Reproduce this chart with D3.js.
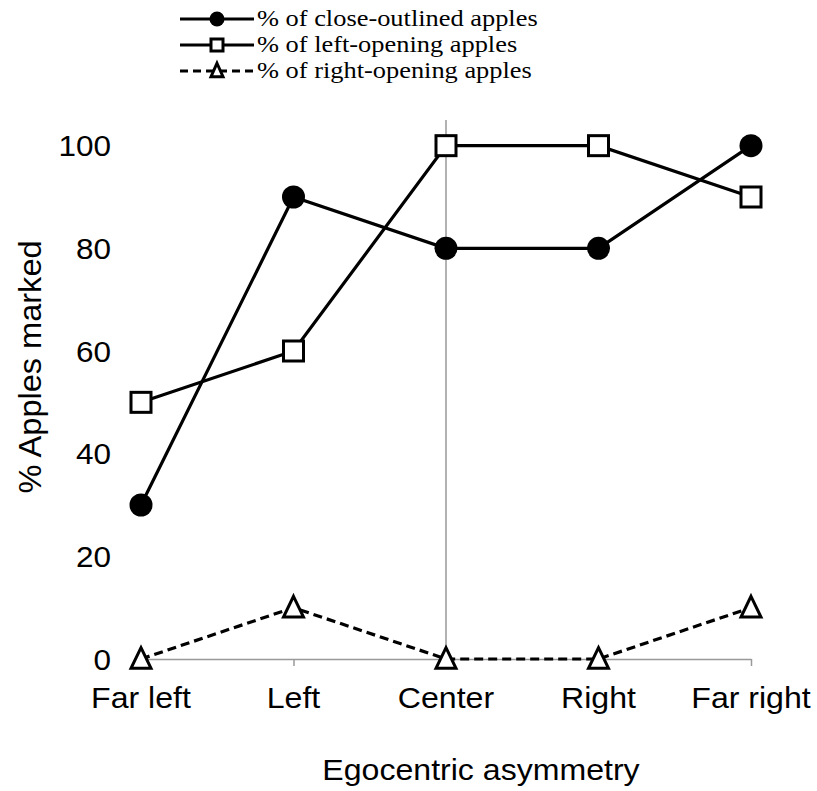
<!DOCTYPE html>
<html><head><meta charset="utf-8">
<script src="https://cdn.jsdelivr.net/npm/d3@7/dist/d3.min.js"></script>
<style>body{margin:0;background:#fff}svg{display:block}</style>
</head><body>
<svg id="c" width="817" height="791"></svg>
<script>
const categories = ["Far left", "Left", "Center", "Right", "Far right"];
const closeOutlined = [30, 90, 80, 80, 100];
const leftOpening = [50, 60, 100, 100, 90];
const rightOpening = [0, 10, 0, 0, 10];
const yTicks = [0, 20, 40, 60, 80, 100];
const seriesNames = ["% of close-outlined apples", "% of left-opening apples", "% of right-opening apples"];

const SANS = "Liberation Sans, Arial, sans-serif";
const svg = d3.select("#c");
const x = d3.scalePoint().domain(categories).range([141, 751]);
const y = d3.scaleLinear().domain([0, 105]).range([659, 120]);

// x axis
const xAxis = svg.append("g").attr("transform", "translate(0,659)")
  .call(d3.axisBottom(x).tickSize(7).tickSizeOuter(0).tickFormat(""));
xAxis.select(".domain").attr("stroke", "#999").attr("stroke-width", 1.5);
xAxis.selectAll(".tick line").attr("stroke", "#999").attr("stroke-width", 1.5);

svg.append("g").selectAll("text").data(categories).join("text")
  .attr("transform", d => `translate(${x(d)},708) scale(1.07,1)`)
  .attr("text-anchor", "middle").attr("font-family", SANS).attr("font-size", 30).text(d => d);

// vertical axis line at Center
svg.append("line").attr("x1", x("Center")).attr("x2", x("Center"))
  .attr("y1", y(105)).attr("y2", y(0)).attr("stroke", "#999").attr("stroke-width", 1.5);

// y tick labels
svg.append("g").selectAll("text").data(yTicks).join("text")
  .attr("transform", d => `translate(111,${y(d)}) scale(1.05,1)`).attr("dy", "0.36em")
  .attr("text-anchor", "end").attr("font-family", SANS)
  .attr("font-size", 30).text(d => d);

svg.append("text").attr("transform", "translate(41,367) rotate(-90) scale(1.05,1)")
  .attr("text-anchor", "middle").attr("font-family", SANS)
  .attr("font-size", 31).text("% Apples marked");

svg.append("text").attr("transform", "translate(481,780) scale(1.07,1)")
  .attr("text-anchor", "middle").attr("font-family", SANS)
  .attr("font-size", 30).text("Egocentric asymmetry");

const line = d3.line().x((d, i) => x(categories[i])).y(d => y(d));

function drawMarker(g, type, cx, cy, s) {
  if (type === "circle") {
    g.append("circle").attr("cx", cx).attr("cy", cy).attr("r", s / 2).attr("fill", "#000");
  } else if (type === "square") {
    g.append("rect").attr("x", cx - s / 2 + 1.5).attr("y", cy - s / 2 + 1.5)
      .attr("width", s - 3).attr("height", s - 3).attr("fill", "#fff").attr("stroke", "#000").attr("stroke-width", 3);
  } else {
    const h = s * 0.9;
    g.append("path").attr("d", d3.line()([[cx, cy - h / 2 - 1], [cx + s / 2 - 1.5, cy + h / 2 - 1], [cx - s / 2 + 1.5, cy + h / 2 - 1]]) + "Z")
      .attr("fill", "#fff").attr("stroke", "#000").attr("stroke-width", 3);
  }
}

const series = [
  { vals: rightOpening, type: "triangle", dash: "9,5" },
  { vals: leftOpening, type: "square", dash: null },
  { vals: closeOutlined, type: "circle", dash: null }
];
series.forEach(s => {
  svg.append("path").attr("d", line(s.vals)).attr("fill", "none").attr("stroke", "#000")
    .attr("stroke-width", 3.2).attr("stroke-dasharray", s.dash);
});
series.forEach(s => {
  const g = svg.append("g");
  s.vals.forEach((v, i) => drawMarker(g, s.type, x(categories[i]), y(v), 23));
});

// legend
const legTypes = ["circle", "square", "triangle"];
const legDash = [null, null, "8,5"];
const legY = [19, 45, 71];
const lg = svg.append("g");
seriesNames.forEach((n, i) => {
  lg.append("line").attr("x1", 180).attr("x2", 254).attr("y1", legY[i]).attr("y2", legY[i])
    .attr("stroke", "#000").attr("stroke-width", 3).attr("stroke-dasharray", legDash[i]);
  drawMarker(lg, legTypes[i], 217, legY[i], 15);
  lg.append("text").attr("transform", `translate(257,${legY[i]}) scale(1.1,1)`).attr("dy", "0.3em")
    .attr("font-family", "Liberation Serif, Times New Roman, serif").attr("font-size", 24).text(n);
});
</script>
</body></html>
